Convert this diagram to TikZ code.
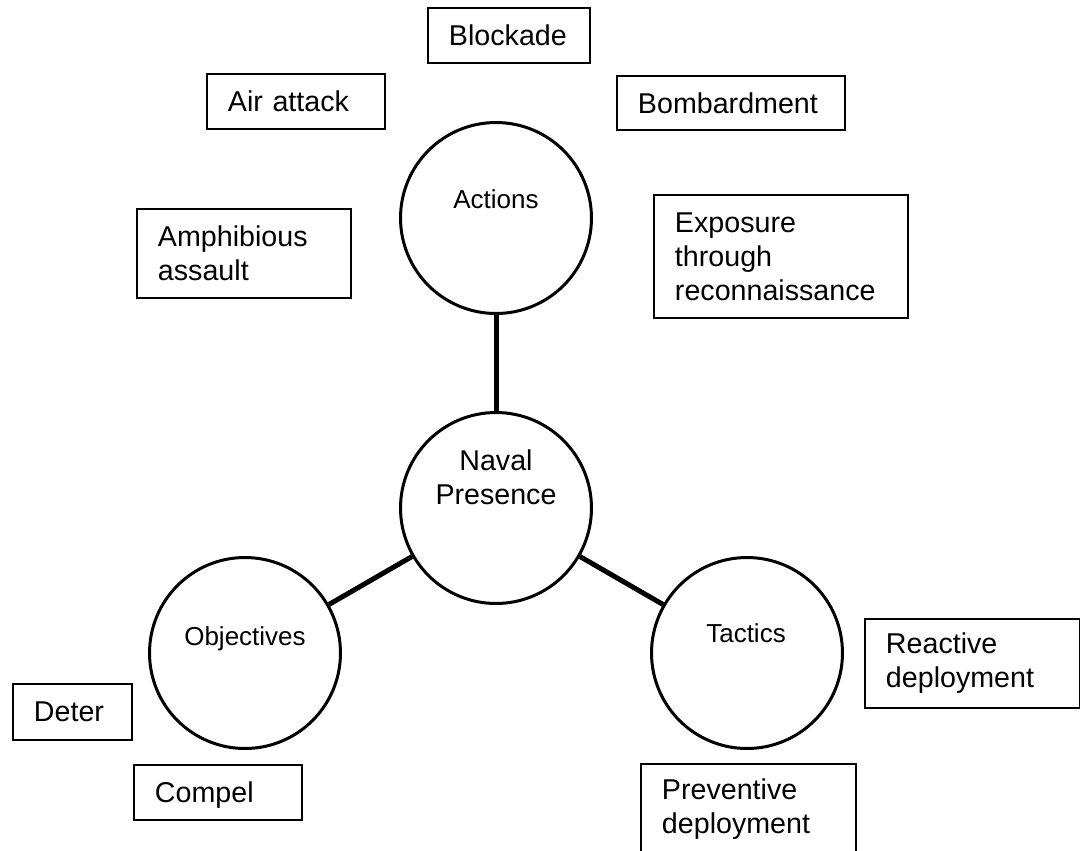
\documentclass[tikz,border=0pt]{standalone}
\usepackage{fontspec}
\setmainfont{Liberation Sans}
\begin{document}
\begin{tikzpicture}[x=0.02cm, y=-0.02cm,
  hub/.style={circle, draw, line width=0.06cm, minimum size=3.82cm, inner sep=0pt},
  hubtext/.style={font=\fontsize{14.8pt}{17.8pt}\selectfont, inner sep=0pt},
  maintext/.style={font=\fontsize{16.3pt}{19.35pt}\selectfont, align=center, inner sep=0pt},
  item/.style={draw, line width=0.04cm, rectangle, anchor=north west, align=left,
    inner xsep=0.42cm, inner ysep=0pt,
    font=\fontsize{16.3pt}{19.35pt}\selectfont},
  oneline/.style={text depth=0pt},
  link/.style={line width=0.1cm}]
% page area
\fill[white] (0,0) rectangle (1080,850);
\useasboundingbox (0,0) rectangle (1080,850);

% the four circles
\node[hub] (act) at (496,218) {};
\node[hub] (nav) at (496,508) {};
\node[hub] (obj) at (245,653) {};
\node[hub] (tac) at (747,653) {};

% circle captions
\node[hubtext, anchor=base] (actL) at (496,208) {Actions};
\node[maintext] (navL) at (496,477) {Naval\\Presence};
\node[hubtext, anchor=base] (objL) at (245,645) {Objectives};
\node[hubtext, anchor=base] (tacL) at (746,642) {Tactics};

% spokes
\draw[link] (act) -- (nav);
\draw[link] (nav) -- (obj);
\draw[link] (nav) -- (tac);

% actions
\node[item, oneline, minimum width=3.24cm, minimum height=1.10cm, text width=2.40cm] (blockade) at (427,7) {Blockade};
\node[item, oneline, minimum width=3.56cm, minimum height=1.10cm, text width=2.72cm] (air) at (206,73) {Air attack};
\node[item, oneline, minimum width=4.56cm, minimum height=1.08cm, text width=3.72cm] (bomb) at (616,75) {Bombardment};
\node[item, minimum width=4.28cm, minimum height=1.78cm, text width=3.44cm] (amph) at (136,208) {Amphibious\\assault};
\node[item, minimum width=5.08cm, minimum height=2.46cm, text width=4.24cm] (expo) at (653,194) {Exposure\\through\\reconnaissance};

% objectives
\node[item, oneline, minimum width=2.38cm, minimum height=1.12cm, text width=1.54cm] (deter) at (12,683) {Deter};
\node[item, oneline, minimum width=3.36cm, minimum height=1.10cm, text width=2.52cm] (compel) at (133,764) {Compel};

% tactics
\node[item, minimum width=4.30cm, minimum height=1.78cm, text width=3.46cm] (react) at (864,618) {Reactive\\deployment};
\node[item, minimum width=4.30cm, minimum height=1.80cm, text width=3.46cm] (prev) at (640,763) {Preventive\\deployment};
\end{tikzpicture}
\end{document}
